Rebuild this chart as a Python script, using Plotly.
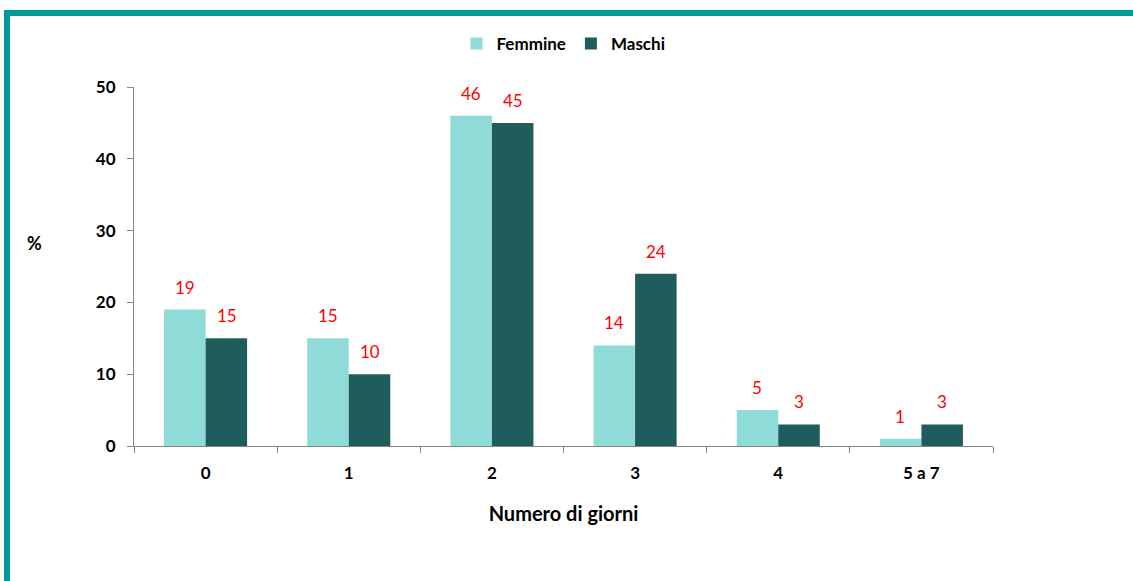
import plotly.graph_objects as go

# data
categorie = ['0', '1', '2', '3', '4', '5 a 7']
femmine = [19, 15, 46, 14, 5, 1]
maschi = [15, 10, 45, 24, 3, 3]

col_femmine = '#8FDBD8'
col_maschi = '#1F5C5C'
col_bordo = '#009999'
font_name = 'Lato, Open Sans, sans-serif'

W, H = 1133, 581
m_l, m_r, m_t, m_b = 134, 140, 87, 135
pw = W - m_l - m_r
ph = H - m_t - m_b

fig = go.Figure()
fig.add_trace(go.Bar(x=categorie, y=femmine, name='<b>Femmine</b>',
                     marker=dict(color=col_femmine, line=dict(width=0))))
fig.add_trace(go.Bar(x=categorie, y=maschi, name='<b>Maschi</b>',
                     marker=dict(color=col_maschi, line=dict(width=0))))

# value labels above bars (red)
for serie, shift in [(femmine, -21), (maschi, 21)]:
    for c, v in zip(categorie, serie):
        fig.add_annotation(x=c, y=v, text=str(v), showarrow=False,
                           xshift=shift, yshift=10, yanchor='bottom',
                           font=dict(color='#FF0000', size=17, family=font_name))


def px_x(x):
    return (x - m_l) / pw


def px_y(y):
    return (H - m_b - y) / ph


# "%" label
fig.add_annotation(x=px_x(34), y=px_y(243), xref='paper', yref='paper',
                   xanchor='center', text='<b>%</b>', showarrow=False,
                   font=dict(size=18, color='black', family=font_name))

# teal frame (left and top)
fig.add_shape(type='line', xref='paper', yref='paper',
              x0=px_x(7), x1=px_x(7), y0=px_y(10), y1=px_y(H + 5),
              line=dict(color=col_bordo, width=6))
fig.add_shape(type='line', xref='paper', yref='paper',
              x0=px_x(4), x1=px_x(W + 5), y0=px_y(13), y1=px_y(13),
              line=dict(color=col_bordo, width=6))

fig.update_layout(
    width=W, height=H,
    margin=dict(l=m_l, r=m_r, t=m_t, b=m_b),
    paper_bgcolor='white', plot_bgcolor='white',
    barmode='group', bargap=0.42, bargroupgap=0,
    font=dict(family=font_name, color='black'),
    showlegend=True,
    legend=dict(orientation='h', x=0.5, xanchor='center', y=px_y(44), yanchor='middle',
                font=dict(size=17, family=font_name), itemwidth=30,
                traceorder='normal'),
)
fig.update_xaxes(
    showline=True, linecolor='#868686', linewidth=1,
    ticks='outside', tickson='boundaries', ticklen=6, tickcolor='#868686',
    tickfont=dict(size=17), tickprefix='<b>', ticksuffix='</b>',
    ticklabelstandoff=12,
    title=dict(text='<b>Numero di giorni</b>', font=dict(size=20), standoff=24),
    showgrid=False,
)
fig.update_yaxes(
    range=[0, 50], dtick=10, showline=True, linecolor='#868686', linewidth=1,
    ticks='outside', ticklen=6, tickcolor='#868686',
    tickfont=dict(size=17), tickprefix='<b>', ticksuffix='</b>',
    ticklabelstandoff=8, showgrid=False, zeroline=False,
)

fig.write_html('out.html', config={'displayModeBar': False},
               post_script="document.body.style.margin='0';")
